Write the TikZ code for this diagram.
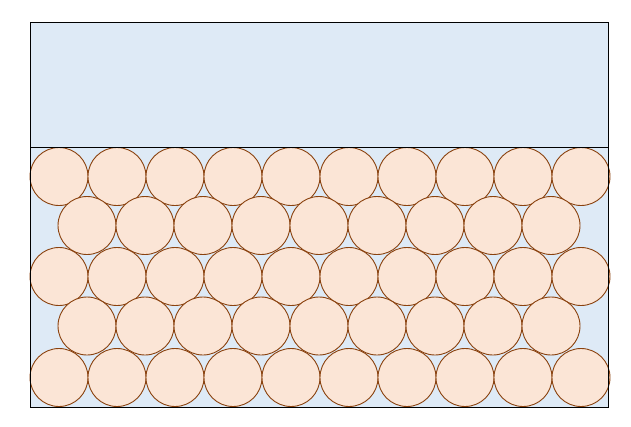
\documentclass[tikz,border=0pt]{standalone}
\usepackage{tikz}
\definecolor{tankblue}{HTML}{DEEAF6}
\definecolor{ballfill}{HTML}{FBE5D6}
\definecolor{ballline}{HTML}{8A420F}
\tikzset{
  ball/.style={fill=ballfill, draw=ballline, line width=0.9pt},
  wall/.style={draw=black, line width=1pt}
}
\begin{document}
\begin{tikzpicture}[x=1pt,y=-1pt]
  \useasboundingbox (0,0) rectangle (631,426);
  \fill[tankblue] (30,22) rectangle (608,407);
  % wide rows: 10 balls
  \foreach \y in {176.5,276.5,377.5} {
    \foreach \k in {0,...,9} {
      \pgfmathsetmacro{\x}{59+\k*58}
      \draw[ball] (\x,\y) circle (29);
    }
  }
  % narrow rows: 9 balls
  \foreach \y in {225.5,326} {
    \foreach \k in {0,...,8} {
      \pgfmathsetmacro{\x}{87+\k*58}
      \draw[ball] (\x,\y) circle (29);
    }
  }
  \draw[wall] (30,22) rectangle (608,407);
  \draw[wall] (30,147) -- (608,147);
\end{tikzpicture}
\end{document}
